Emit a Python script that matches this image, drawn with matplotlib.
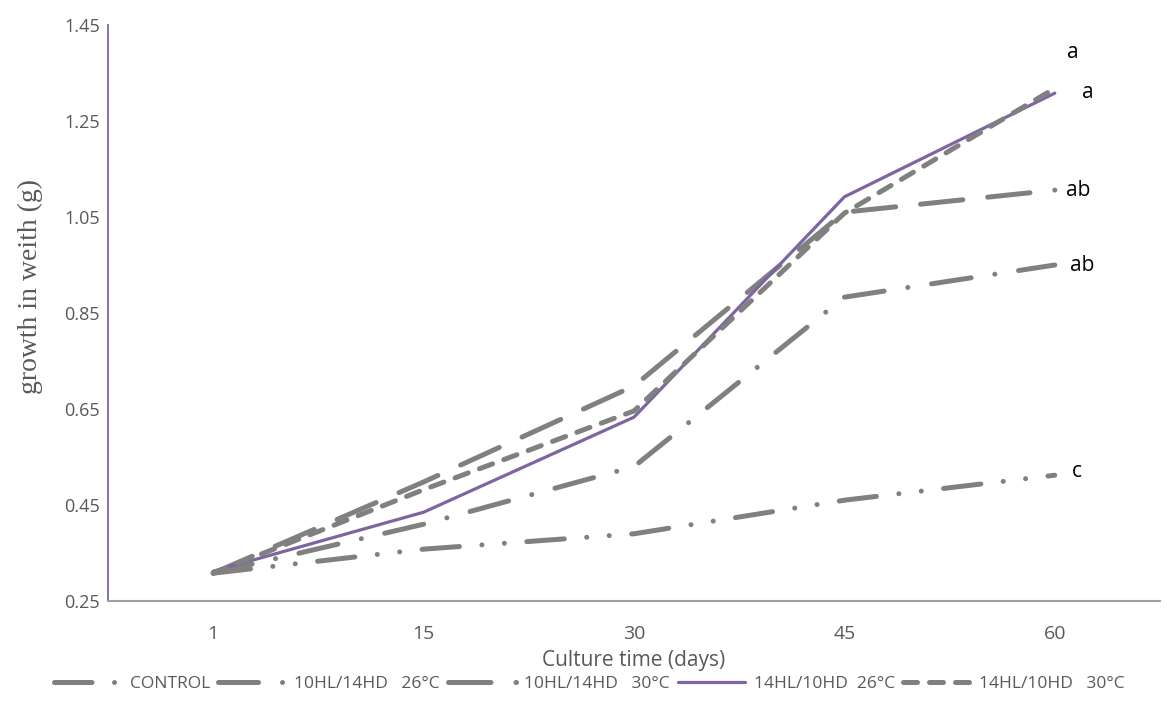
import matplotlib
matplotlib.use("Agg")
import matplotlib.pyplot as plt

days = ["1", "15", "30", "45", "60"]
series_names = ["CONTROL", "10HL/14HD   26°C", "10HL/14HD   30°C", "14HL/10HD  26°C", "14HL/10HD   30°C"]
control = [0.308, 0.358, 0.390, 0.460, 0.512]
hl10_26 = [0.308, 0.410, 0.530, 0.883, 0.950]
hl10_30 = [0.308, 0.498, 0.698, 1.060, 1.106]
hl14_26 = [0.312, 0.435, 0.633, 1.092, 1.308]
hl14_30 = [0.308, 0.482, 0.646, 1.058, 1.318]
letters = ["a", "a", "ab", "ab", "c"]
letter_x = [4.06, 4.13, 4.055, 4.07, 4.08]
letter_y = [1.392, 1.310, 1.106, 0.948, 0.519]
yticks = [0.25, 0.45, 0.65, 0.85, 1.05, 1.25, 1.45]

fig = plt.figure(figsize=(11.67, 7.19), dpi=100)
ax = fig.add_axes([108/1167, 1-601/719, (1160-108)/1167, (601-25)/719])

x = list(range(len(days)))
gray = "#808080"
purple = "#8064A2"
lw = 3.6
styles = [
    dict(color=gray, lw=lw, dashes=(7.5, 4.5, 0.01, 4.5, 0.01, 4.5)),
    dict(color=gray, lw=lw, dashes=(8, 4.8, 0.01, 4.8)),
    dict(color=gray, lw=lw, dashes=(8.5, 5)),
    dict(color=purple, lw=2.3),
    dict(color=gray, lw=lw, dashes=(2.8, 2.4)),
]
data = [control, hl10_26, hl10_30, hl14_26, hl14_30]
for name, vals, st in zip(series_names, data, styles):
    ax.plot(x, vals, label=name, solid_capstyle="round", dash_capstyle="round", **st)

for t, lx, ly in zip(letters, letter_x, letter_y):
    ax.text(lx, ly, t, fontsize=15, family=["Open Sans", "DejaVu Sans"], color="black", va="center", ha="left")

ax.set_xlim(-0.5, 4.5)
ax.set_ylim(0.25, 1.45)
ax.set_yticks(yticks)
ax.set_yticklabels([f"{v:.2f}" for v in yticks], fontsize=13, color="#595959", family=["Open Sans", "DejaVu Sans"])
ax.set_xticks(x)
ax.set_xticklabels(days, fontsize=14, color="#595959", family=["Liberation Sans Narrow", "Open Sans", "DejaVu Sans"])
ax.tick_params(axis="x", length=0, pad=17)
ax.tick_params(axis="y", length=0, pad=6)
for s in ["top", "right"]:
    ax.spines[s].set_visible(False)
ax.spines["left"].set_color(purple)
ax.spines["left"].set_linewidth(1.3)
ax.spines["bottom"].set_color("#A0A0A0")
ax.spines["bottom"].set_linewidth(1.5)

ax.set_xlabel("Culture time (days)", fontsize=15, color="#595959", family=["Liberation Sans Narrow", "Open Sans", "DejaVu Sans"], labelpad=5)
fig.text(30/1167, 1-287/719, "growth in weith (g)", rotation=90, fontsize=20, color="#595959",
         family=["Liberation Serif", "DejaVu Serif"], ha="center", va="center")

leg = fig.legend(loc="center", bbox_to_anchor=(0.505, 1-684/719), ncol=5, frameon=False,
                 prop={"family": ["Open Sans", "DejaVu Sans"], "size": 12.5}, handlelength=3.9,
                 columnspacing=0.45, handletextpad=0.5)
for t in leg.get_texts():
    t.set_color("#595959")

fig.savefig("out.png", dpi=100)
